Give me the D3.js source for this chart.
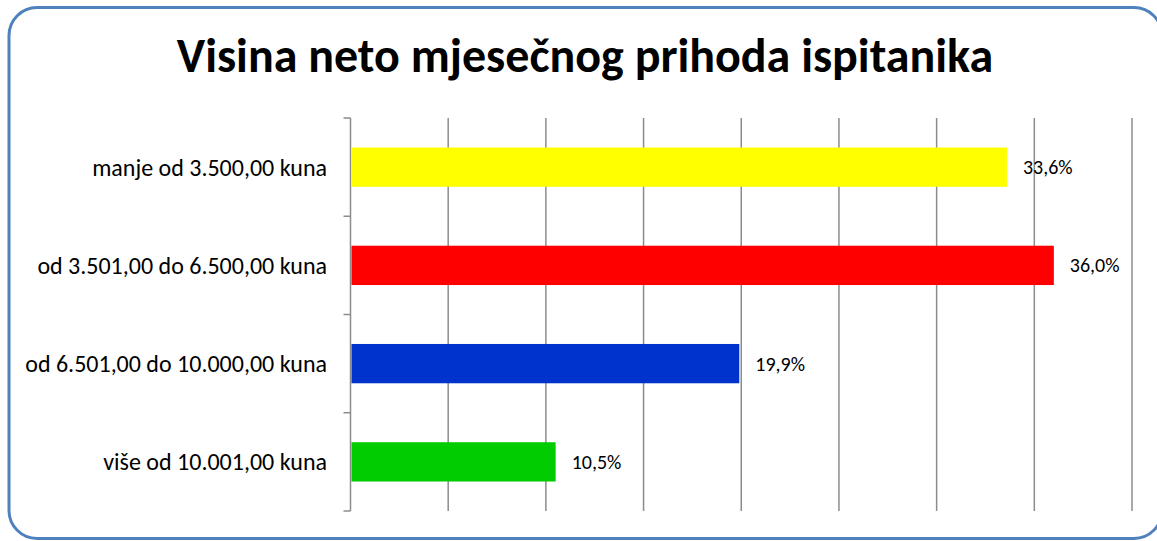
<!DOCTYPE html>
<html>
<head>
<meta charset="utf-8">
<script src="https://cdn.jsdelivr.net/npm/d3@7"></script>
<style>
  body { margin: 0; background: #fff; }
  svg { display: block; font-family: Carlito, Lato, "Open Sans", sans-serif; }
</style>
</head>
<body>
<svg width="1157" height="541"></svg>
<script>
const categories = [
  'manje od 3.500,00 kuna',
  'od 3.501,00 do 6.500,00 kuna',
  'od 6.501,00 do 10.000,00 kuna',
  'više od 10.001,00 kuna'
];
const values = [33.6, 36.0, 19.9, 10.5];
const colors = ['#ffff00', '#ff0000', '#0033cc', '#00cc00'];
const xTicks = [0, 5, 10, 15, 20, 25, 30, 35, 40];

let svg = d3.select('svg');

// chart frame
svg.append('rect')
  .attr('x', 9).attr('y', 7.5)
  .attr('width', 1153).attr('height', 531)
  .attr('rx', 28).attr('ry', 28)
  .style('fill', '#fff')
  .style('stroke', '#4f81bd')
  .style('stroke-width', 3);

svg.append('text')
  .attr('x', 585).attr('y', 72)
  .attr('text-anchor', 'middle')
  .style('font-size', '48px')
  .style('font-weight', 'bold')
  .text('Visina neto mjesečnog prihoda ispitanika');

const x = d3.scaleLinear().domain([0, 40]).range([350.5, 1132]);
const y = d3.scaleBand().domain(categories).range([118, 511]).paddingInner(0.6).paddingOuter(0.3);

// vertical gridlines
svg.append('g')
  .selectAll('line')
  .data(xTicks.slice(1))
  .enter()
  .append('line')
  .attr('x1', d => x(d)).attr('x2', d => x(d))
  .attr('y1', 118).attr('y2', 511)
  .style('stroke', '#8c8c8c')
  .style('stroke-width', 1.5);

// category axis with tick marks between bands
const band = (511 - 118) / categories.length;
const yAxis = svg.append('g');
yAxis.append('line')
  .attr('x1', x(0)).attr('x2', x(0))
  .attr('y1', 118).attr('y2', 511)
  .style('stroke', '#8c8c8c').style('stroke-width', 1.5);
yAxis.selectAll('line.tick')
  .data(d3.range(categories.length + 1))
  .enter()
  .append('line')
  .attr('class', 'tick')
  .attr('x1', x(0) - 7).attr('x2', x(0))
  .attr('y1', i => 118 + i * band).attr('y2', i => 118 + i * band)
  .style('stroke', '#8c8c8c').style('stroke-width', 1.5);

yAxis.selectAll('text')
  .data(categories)
  .enter()
  .append('text')
  .attr('x', 327)
  .attr('y', d => y(d) + y.bandwidth() / 2)
  .attr('dy', '0.35em')
  .attr('text-anchor', 'end')
  .style('font-size', '24px')
  .text(d => d);

svg.append('g')
  .selectAll('rect')
  .data(values)
  .enter()
  .append('rect')
  .attr('x', x(0) + 1)
  .attr('y', (_, i) => y(categories[i]))
  .attr('width', d => x(d) - x(0) - 1)
  .attr('height', y.bandwidth())
  .style('fill', (_, i) => colors[i]);

svg.append('g')
  .selectAll('text')
  .data(values)
  .enter()
  .append('text')
  .attr('x', d => x(d) + 16)
  .attr('y', (_, i) => y(categories[i]) + y.bandwidth() / 2)
  .attr('dy', '0.35em')
  .style('font-size', '20px')
  .text(d => d.toFixed(1).replace('.', ',') + '%');
</script>
</body>
</html>
